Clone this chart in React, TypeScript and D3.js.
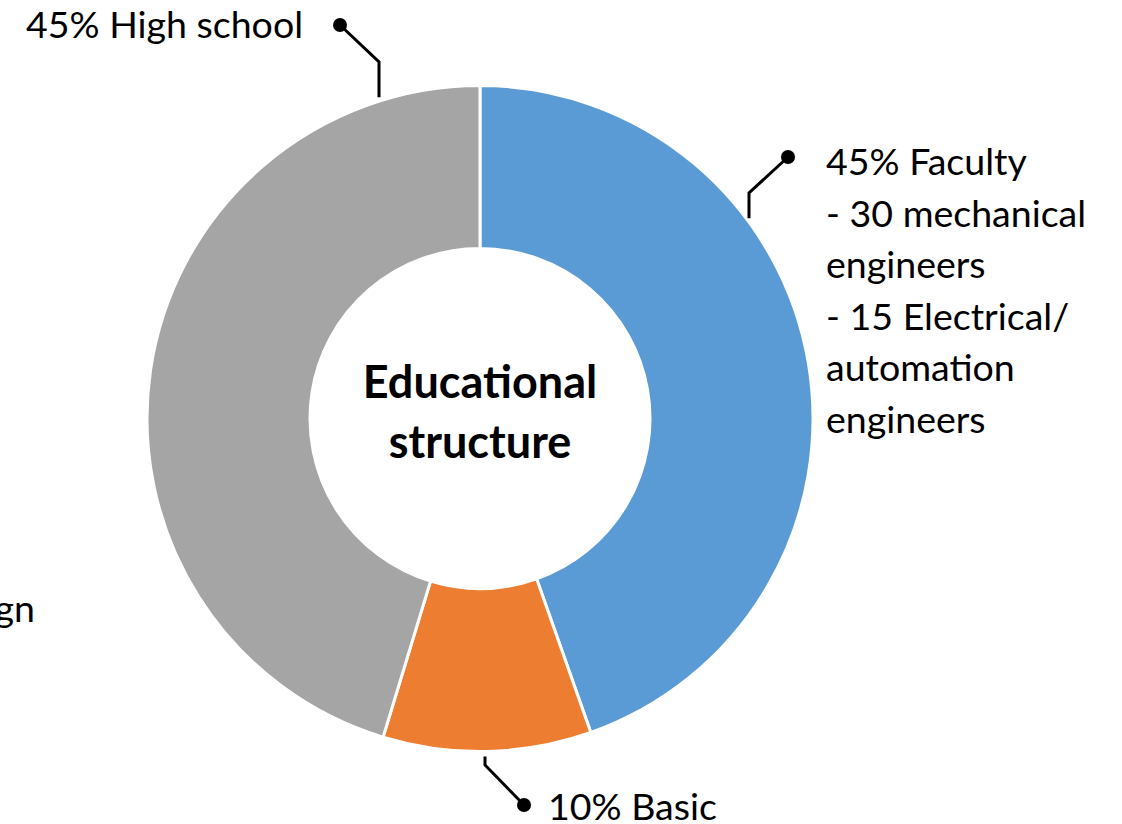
import React from "react";
import * as d3 from "d3";

const categories = ["Faculty", "Basic", "High school"];
const shares = [44.6, 10.1, 45.3];
const shareLabels = ["45%", "10%", "45%"];
const colors = ["#5B9BD5", "#ED7D31", "#A5A5A5"];
const facultyDetail = ["- 30 mechanical", "engineers", "- 15 Electrical/", "automation", "engineers"];
const centerTitle = ["Educational", "structure"];

const W = 1122;
const H = 824;
const CX = 480;
const CY = 418.5;
const R_OUT = 333;
const R_IN = 170;
const FONT = "Lato, 'Open Sans', sans-serif";
const FS = 37.5;
const FS_TITLE = 45;

// leader layout: angle (deg from top, clockwise) where leader meets ring, elbow, dot, label
const leaders = [
  { angle: 53.9, gap: 7, elbow: [749, 193], dot: [788, 157], label: [826, 175], anchor: "start" },
  { angle: 179.1, gap: 5, elbow: [485, 765], dot: [524, 805], label: [548, 820], anchor: "start" },
  { angle: -17.6, gap: 4, elbow: [379, 62], dot: [340, 25], label: [303, 38], anchor: "end" },
];

export default function App() {
  const pie = d3.pie<number>().sort(null).value((d) => d);
  const arcs = pie(shares);
  const arcGen = d3.arc<d3.PieArcDatum<number>>().innerRadius(R_IN).outerRadius(R_OUT);

  return (
    <svg
      width={W}
      height={H}
      style={{ position: "absolute", left: 0, top: 0, background: "#fff" }}
      fontFamily={FONT}
    >
      <g transform={`translate(${CX},${CY})`}>
        {arcs.map((a, i) => (
          <path key={categories[i]} d={arcGen(a) || ""} fill={colors[i]} stroke="#fff" strokeWidth={3} />
        ))}
        {centerTitle.map((t, i) => (
          <text
            key={t}
            x={0}
            y={-21 + i * 60}
            textAnchor="middle"
            fontWeight="bold"
            fontSize={FS_TITLE}
            fill="#000"
          >
            {t}
          </text>
        ))}
      </g>
      {leaders.map((l, i) => {
        const rad = (l.angle * Math.PI) / 180;
        const sx = CX + Math.sin(rad) * (R_OUT + l.gap);
        const sy = CY - Math.cos(rad) * (R_OUT + l.gap);
        const path = d3.line()([
          [l.elbow[0], sy],
          [l.elbow[0], l.elbow[1]],
          [l.dot[0], l.dot[1]],
        ]);
        const label = `${shareLabels[i]} ${categories[i]}`;
        return (
          <g key={categories[i]}>
            <path d={path || ""} fill="none" stroke="#000" strokeWidth={3} />
            <circle cx={l.dot[0]} cy={l.dot[1]} r={7} fill="#000" />
            <text x={l.label[0]} y={l.label[1]} textAnchor={l.anchor} fontSize={FS} fill="#000">
              {label}
            </text>
            {i === 0 &&
              facultyDetail.map((t, j) => (
                <text key={j} x={l.label[0]} y={l.label[1] + (j + 1) * 51.6} fontSize={FS} fill="#000">
                  {t}
                </text>
              ))}
          </g>
        );
      })}
      <text x={35} y={622} textAnchor="end" fontSize={FS} fill="#000">
        gn
      </text>
    </svg>
  );
}
